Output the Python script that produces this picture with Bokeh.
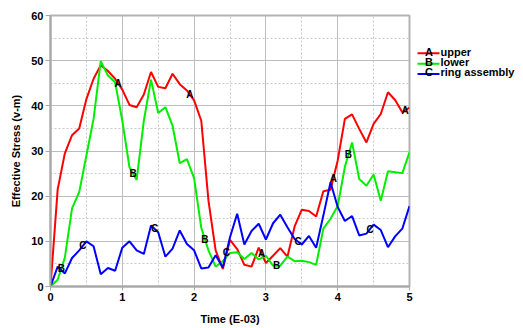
import numpy as np
from bokeh.plotting import figure
from bokeh.layouts import row
from bokeh.models import FixedTicker, Range1d, ColumnDataSource
from bokeh.core.properties import value
from bokeh.embed import file_html
from bokeh.resources import INLINE

# ---- data ----
time = [0.0, 0.1, 0.2, 0.3, 0.4, 0.5, 0.6, 0.7, 0.8, 0.9,
        1.0, 1.1, 1.2, 1.3, 1.4, 1.5, 1.6, 1.7, 1.8, 1.9,
        2.0, 2.1, 2.2, 2.3, 2.4, 2.5, 2.6, 2.7, 2.8, 2.9,
        3.0, 3.1, 3.2, 3.3, 3.4, 3.5, 3.6, 3.7, 3.8, 3.9,
        4.0, 4.1, 4.2, 4.3, 4.4, 4.5, 4.6, 4.7, 4.8, 4.9, 5.0]

upper = [0, 21.5, 29.5, 33.5, 35.0, 41.5, 46.0, 49.0, 47.7, 46.0,
         43.6, 40.2, 39.7, 42.5, 47.5, 44.2, 43.9, 47.1, 44.8, 43.4,
         41.2, 36.7, 19.0, 8.0, 3.9, 10.3, 8.3, 4.8, 4.4, 8.6,
         5.2, 6.8, 8.5, 6.6, 13.3, 17.0, 16.7, 15.5, 21.1, 21.4,
         27.9, 37.1, 38.1, 34.9, 31.9, 36.0, 38.2, 43.0, 41.3, 38.6, 39.6]

lower = [0, 1.5, 6.4, 17.3, 20.9, 29.0, 37.1, 49.9, 46.7, 45.2,
         36.7, 26.4, 23.6, 36.7, 45.8, 38.4, 39.7, 35.6, 27.3, 28.2,
         24.0, 13.0, 8.0, 4.4, 5.6, 7.4, 7.6, 6.1, 7.4, 6.0,
         6.8, 4.6, 4.6, 6.6, 5.6, 5.7, 5.4, 4.8, 12.8, 15.0,
         17.8, 26.5, 31.9, 23.8, 22.3, 24.8, 19.0, 25.5, 25.3, 25.1, 29.7]

ring = [0, 4.4, 2.9, 6.3, 8.0, 10.0, 8.9, 2.7, 4.1, 3.5,
        8.6, 10.0, 8.0, 7.2, 13.5, 12.0, 6.6, 8.4, 12.4, 9.4,
        8.0, 4.0, 4.2, 6.9, 4.2, 10.9, 16.1, 9.3, 12.3, 13.9,
        10.4, 14.0, 15.9, 13.1, 10.5, 9.3, 11.2, 8.6, 15.7, 23.1,
        17.6, 14.5, 15.6, 11.3, 11.7, 13.7, 12.5, 8.7, 11.1, 12.8, 17.8]

series_names = ["upper", "lower", "ring assembly"]
series_marks = ["A", "B", "C"]
series_colors = ["#ff0000", "#00ee00", "#0000ff"]
mark_times = [[0.94, 1.94, 2.94, 3.94, 4.94],
              [0.15, 1.15, 2.15, 3.15, 4.15],
              [0.45, 1.45, 2.45, 3.45, 4.45]]

x_ticks = [0, 1, 2, 3, 4, 5]
x_minor = [0.5, 1.5, 2.5, 3.5, 4.5]
y_ticks = [0, 10, 20, 30, 40, 50, 60]
y_minor = [5, 15, 25, 35, 45, 55]

FONT = value("Liberation Sans")
GRAY = "#a8a8a8"

p = figure(width=413, height=327, x_range=Range1d(0, 5), y_range=Range1d(0, 60),
           output_backend="svg", toolbar_location=None,
           min_border_left=50, min_border_right=4, min_border_top=15, min_border_bottom=41,
           x_axis_label="Time (E-03)", y_axis_label="Effective Stress (v-m)")

p.background_fill_color = "white"
p.border_fill_color = "white"
p.outline_line_color = "#b4b4b4"
p.outline_line_width = 2

p.xaxis.ticker = FixedTicker(ticks=x_ticks, minor_ticks=x_minor)
p.yaxis.ticker = FixedTicker(ticks=y_ticks, minor_ticks=y_minor)

for ax in (p.xaxis[0], p.yaxis[0]):
    ax.axis_line_color = GRAY
    ax.axis_line_width = 2
    ax.major_tick_line_color = GRAY
    ax.major_tick_in = 0
    ax.minor_tick_line_color = None
    ax.major_label_text_font = "Liberation Sans"
    ax.major_label_text_font_style = "bold"
    ax.major_label_text_font_size = "11px"
    ax.major_label_text_color = "black"
    ax.axis_label_text_font = "Liberation Sans"
    ax.axis_label_text_font_style = "bold"
    ax.axis_label_text_font_size = "11px"
    ax.axis_label_text_color = "black"
    ax.major_label_standoff = 2

p.xaxis.major_tick_out = 4
p.yaxis.major_tick_out = 5
p.xaxis.axis_label_standoff = 9
p.yaxis.axis_label_standoff = 6

for g in (p.xgrid[0], p.ygrid[0]):
    g.grid_line_color = "#bdbdbd"
    g.grid_line_width = 1
    g.minor_grid_line_color = "#c8c8c8"
    g.minor_grid_line_dash = "2 2"
    g.minor_grid_line_width = 1

all_series = [upper, lower, ring]
for vals, col in zip(all_series, series_colors):
    p.line(time, vals, line_color=col, line_width=2)

# letter marks on each curve
for vals, mark, times in zip(all_series, series_marks, mark_times):
    ys = np.interp(times, time, vals)
    src = ColumnDataSource(dict(x=times, y=list(ys), t=[mark] * len(times)))
    p.text(x="x", y="y", text="t", source=src, text_font=FONT, text_font_style="bold",
           text_font_size="10px", text_align="center", text_baseline="middle",
           text_color="black")

# ---- legend panel ----
lg = figure(width=106, height=327, x_range=Range1d(0, 106), y_range=Range1d(327, 0),
            output_backend="svg", toolbar_location=None,
            min_border_left=0, min_border_right=0, min_border_top=0, min_border_bottom=0)
lg.axis.visible = False
lg.grid.visible = False
lg.outline_line_color = None
lg.background_fill_color = "white"
lg.border_fill_color = "white"

row_y = [43.5, 56.1, 68.7]
lg.segment(x0=[4] * 3, x1=[26] * 3, y0=[y + 2.0 for y in row_y], y1=[y + 2.0 for y in row_y],
           line_color=series_colors, line_width=2)
lg.text(x=[15.5] * 3, y=row_y, text=series_marks, text_font=FONT, text_font_style="bold",
        text_font_size="11px", text_align="center", text_baseline="alphabetic", text_color="black")
lg.text(x=[27] * 3, y=row_y, text=series_names, text_font=FONT, text_font_style="bold",
        text_font_size="11px", text_align="left", text_baseline="alphabetic", text_color="black")

layout = row(p, lg)
open("out.html", "w").write(file_html(layout, INLINE))
